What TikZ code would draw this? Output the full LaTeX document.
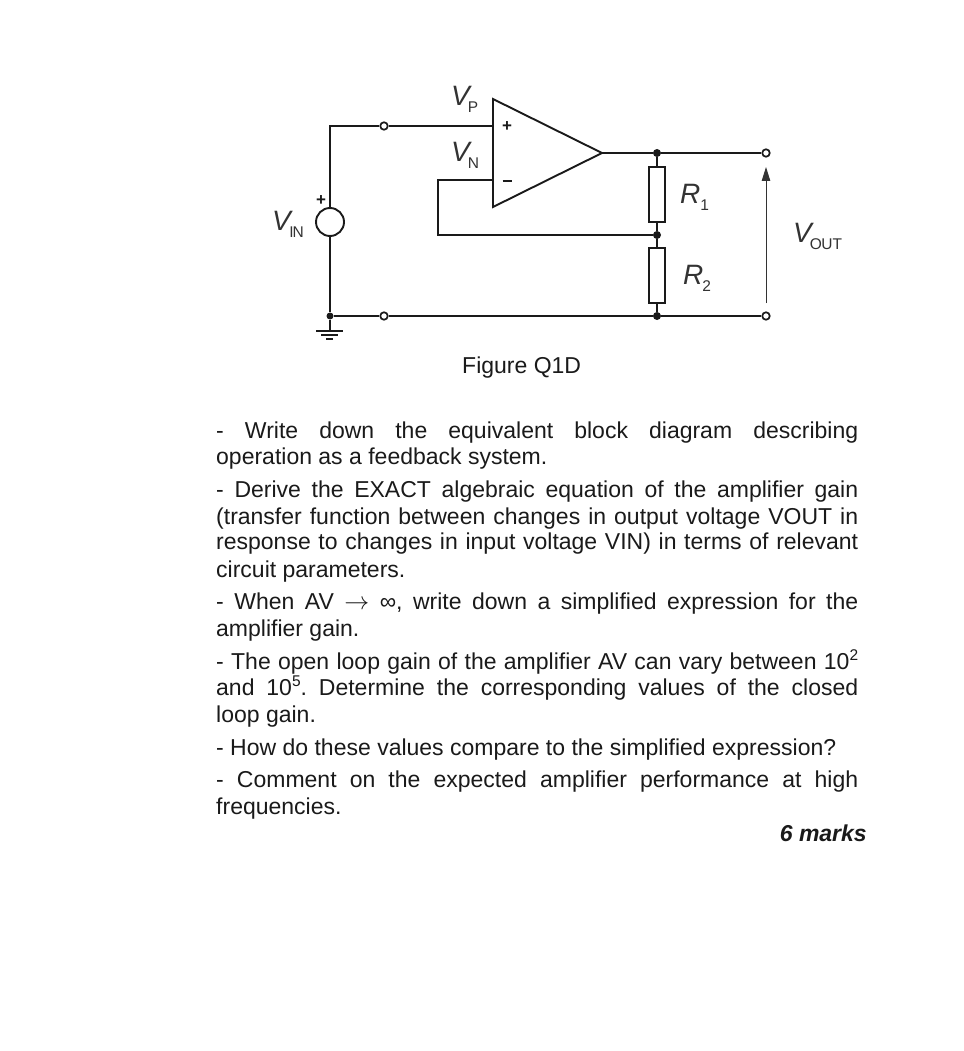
\documentclass[tikz,border=0pt]{standalone}
\usepackage{fontspec}
\setmainfont{Liberation Sans}
\usetikzlibrary{arrows.meta}
\definecolor{ink}{HTML}{1A1A1A}
\definecolor{lab}{HTML}{333333}
\newcommand{\body}{\fontsize{23}{27}\selectfont\frenchspacing}
\newcommand{\jl}[1]{\makebox[642pt][s]{#1}}
\newcommand{\sps}[1]{\raisebox{8.5pt}{\fontsize{15.5}{16}\selectfont #1}}
\newcommand{\lbl}[3]{{\fontsize{28}{30}\selectfont\itshape #1}\kern#3pt{\fontsize{15.5}{18}\selectfont\raisebox{-7pt}{#2}}}
\tikzset{
  wire/.style={draw=ink,line width=1.9pt},
  term/.style={circle,draw=ink,fill=white,line width=1.7pt,minimum size=7.5pt,inner sep=0pt},
  dotj/.style={circle,fill=ink,minimum size=8pt,inner sep=0pt},
  res/.style={rectangle,draw=ink,fill=white,line width=1.9pt,minimum width=16pt,minimum height=55pt,inner sep=0pt},
  src/.style={circle,draw=ink,fill=white,line width=1.9pt,minimum size=28pt,inner sep=0pt},
  txt/.style={anchor=base west,inner sep=0pt,text=ink,font=\body},
  lb/.style={anchor=base west,inner sep=0pt,text=lab},
  sign/.style={inner sep=0pt,text=ink,font=\fontsize{17}{17}\selectfont\bfseries}
}
\begin{document}
\begin{tikzpicture}[x=1pt,y=-1pt]
\useasboundingbox[fill=white] (0,0) rectangle (963,1051);
% op-amp
\coordinate (ta) at (493,99);
\coordinate (tb) at (493,207);
\coordinate (tc) at (602,153);
\coordinate (inp) at (493,126);
\coordinate (inn) at (493,180);
\coordinate (corner1) at (330,126);
\coordinate (fb1) at (438,180);
\coordinate (fb2) at (438,235);
\coordinate (gtop) at (330,331);
\coordinate (gb1l) at (316,331);
\coordinate (gb1r) at (343,331);
\coordinate (gb2l) at (321,335);
\coordinate (gb2r) at (338,335);
\coordinate (gb3l) at (326,339);
\coordinate (gb3r) at (333,339);
\node[src] (vs) at (330,222) {};
\node[term] (t1) at (384,126) {};
\node[term] (t2) at (384,316) {};
\node[dotj,minimum size=7pt] (jg) at (330,316) {};
\node[dotj] (j1) at (657,153) {};
\node[dotj] (j2) at (657,235) {};
\node[dotj] (j3) at (657,316) {};
\node[res] (r1) at (657,194.5) {};
\node[res] (r2) at (657,275.5) {};
\node[term] (o1) at (766,153) {};
\node[term] (o2) at (766,316) {};
\draw[wire] (vs.north) -- (corner1) -- (t1) -- (inp);
\draw[wire] (vs.south) -- (jg) -- (t2) -- (j3) -- (o2);
\draw[wire] (tc) -- (j1) -- (o1);
\draw[wire] (inn) -- (fb1) -- (fb2) -- (j2);
\draw[wire] (j1) -- (r1) -- (j2) -- (r2) -- (j3);
\draw[wire] (jg) -- (gtop);
\draw[wire] (gb1l) -- (gb1r);
\draw[wire] (gb2l) -- (gb2r);
\draw[wire] (gb3l) -- (gb3r);
\draw[wire,line join=miter,fill=white] (ta) -- (tb) -- (tc) -- cycle;
\coordinate (ab) at (766,303);
\coordinate (at) at (766,167);
\draw[draw=lab,line width=1pt,-{Triangle[length=14pt,width=8.5pt]}] (ab) -- (at);
% signs
\node[sign] (sp) at (507,127) {+};
\node[sign] (sm) at (507,181) {\rule{9pt}{1.6pt}};
\node[sign] (sv) at (321,201) {+};
% labels
\node[lb] (vp) at (451,106) {\lbl{V}{P}{-2}};
\node[lb] (vn) at (451,161) {\lbl{V}{N}{-2}};
\node[lb] (vi) at (272,230) {\lbl{V}{I\kern-1ptN}{-1.5}};
\node[lb] (vo) at (793,242) {\lbl{V}{O\kern-0.5ptUT}{-2}};
\node[lb] (rr1) at (680,203) {\lbl{R}{1}{0}};
\node[lb] (rr2) at (683,284) {\lbl{R}{2}{-1}};
% text
\node[txt] (cap) at (462,373) {Figure Q1D};
\node[txt] (l1) at (216,438) {\jl{- Write down the equivalent block diagram describing}};
\node[txt] (l2) at (216,464) {operation as a feedback system.};
\node[txt] (l3) at (216,497) {\jl{- Derive the EXACT algebraic equation of the amplifier gain}};
\node[txt] (l4) at (216,524) {\jl{(transfer function between changes in output voltage VOUT in}};
\node[txt] (l5) at (216,549) {\jl{response to changes in input voltage VIN) in terms of relevant}};
\node[txt] (l6) at (216,577) {circuit parameters.};
\node[txt] (l7) at (216,609) {\jl{- When AV $\rightarrow$ ∞, write down a simplified expression for the}};
\node[txt] (l8) at (216,636) {amplifier gain.};
\node[txt] (l9) at (216,669) {\jl{- The open loop gain of the amplifier AV can vary between 10\sps{2}}};
\node[txt] (l10) at (216,695) {\jl{and 10\sps{5}. Determine the corresponding values of the closed}};
\node[txt] (l11) at (216,722) {loop gain.};
\node[txt] (l12) at (216,755) {- How do these values compare to the simplified expression?};
\node[txt] (l13) at (216,787) {\jl{- Comment on the expected amplifier performance at high}};
\node[txt] (l14) at (216,814) {frequencies.};
\node[txt,anchor=base east] (m) at (867,841) {\bfseries\itshape 6 marks};
\end{tikzpicture}
\end{document}
